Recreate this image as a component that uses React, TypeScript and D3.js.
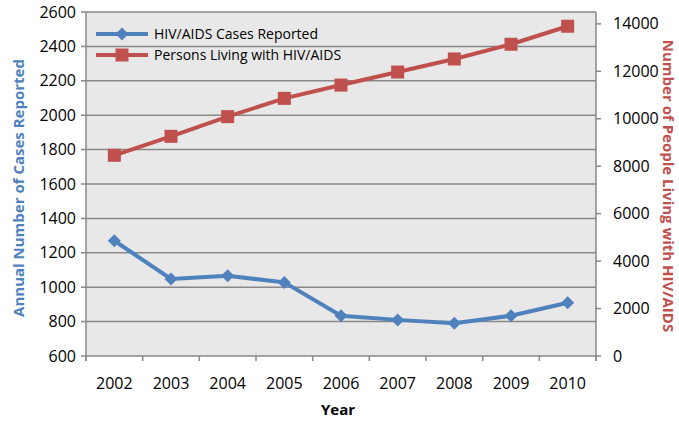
import React from "react";
import * as d3 from "d3";

const years = ["2002", "2003", "2004", "2005", "2006", "2007", "2008", "2009", "2010"];
const casesReported = [1270, 1048, 1066, 1028, 834, 810, 790, 834, 910];
const personsLiving = [8460, 9260, 10090, 10860, 11420, 11970, 12520, 13140, 13900];
const leftTicks = [600, 800, 1000, 1200, 1400, 1600, 1800, 2000, 2200, 2400, 2600];
const rightTicks = [0, 2000, 4000, 6000, 8000, 10000, 12000, 14000];

const blue = "#4F81BD";
const red = "#C0504D";
const font = "'Open Sans', sans-serif";

// square diamond marker, as Excel draws it
const diamond = "M0,-6.5L6.5,0L0,6.5L-6.5,0Z";

const App = () => {
    const width = 679;
    const height = 421;
    const left = 86, right = 596, top = 12, bottom = 356;

    const x = d3.scaleBand().domain(years).range([left, right]);
    const yL = d3.scaleLinear().domain([600, 2600]).range([bottom, top]);
    const yR = d3.scaleLinear().domain([0, 14500]).range([bottom, top]);

    const cx = (d: string) => (x(d) as number) + x.bandwidth() / 2;

    const lineL = d3.line<number>().x((d, i) => cx(years[i])).y(d => yL(d));
    const lineR = d3.line<number>().x((d, i) => cx(years[i])).y(d => yR(d));

    const boundaries = years.map(d => x(d) as number).concat([right]);

    return (
        <svg width={width} height={height} style={{position: "absolute", left: 0, top: 0}}>
            <rect x={left} y={top} width={right - left} height={bottom - top} fill="#e8e8e8"/>
            {leftTicks.map(t => (
                <g key={t}>
                    <line x1={left - 5} x2={right} y1={yL(t)} y2={yL(t)} stroke="#888" strokeWidth={1.5}/>
                    <text x={left - 10} y={yL(t)} dy="0.35em" textAnchor="end" fontFamily={font} fontSize={16}>{t}</text>
                </g>
            ))}
            <line x1={left} x2={left} y1={top} y2={bottom + 5} stroke="#888" strokeWidth={1.5}/>
            <line x1={right} x2={right} y1={top} y2={bottom + 5} stroke="#888" strokeWidth={1.5}/>
            {boundaries.map((b, i) => (
                <line key={i} x1={b} x2={b} y1={bottom} y2={bottom + 5} stroke="#888" strokeWidth={1.5}/>
            ))}
            {rightTicks.map(t => (
                <g key={t}>
                    <line x1={right} x2={right + 5} y1={yR(t)} y2={yR(t)} stroke="#888" strokeWidth={1.5}/>
                    <text x={right + 17} y={yR(t)} dy="0.35em" fontFamily={font} fontSize={16}>{t}</text>
                </g>
            ))}
            {years.map(d => (
                <text key={d} x={cx(d)} y={389} textAnchor="middle" fontFamily={font} fontSize={16}>{d}</text>
            ))}

            <path d={lineR(personsLiving) as string} fill="none" stroke={red} strokeWidth={4}/>
            {personsLiving.map((v, i) => (
                <rect key={i} x={cx(years[i]) - 6.5} y={yR(v) - 6.5} width={13} height={13} fill={red}/>
            ))}
            <path d={lineL(casesReported) as string} fill="none" stroke={blue} strokeWidth={4}/>
            {casesReported.map((v, i) => (
                <path key={i} d={diamond} transform={`translate(${cx(years[i])},${yL(v)})`} fill={blue}/>
            ))}

            <g>
                <line x1={96} x2={148} y1={34} y2={34} stroke={blue} strokeWidth={4}/>
                <path d={diamond} transform="translate(122,34)" fill={blue}/>
                <text x={154} y={34} dy="0.35em" fontFamily={font} fontSize={14}>HIV/AIDS Cases Reported</text>
                <line x1={96} x2={148} y1={55} y2={55} stroke={red} strokeWidth={4}/>
                <rect x={115.5} y={48.5} width={13} height={13} fill={red}/>
                <text x={154} y={55} dy="0.35em" fontFamily={font} fontSize={14}>Persons Living with HIV/AIDS</text>
            </g>

            <text transform={`translate(24,${(top + bottom) / 2 + 4}) rotate(-90)`} textAnchor="middle" fontFamily={font} fontSize={15} fontWeight="bold" fill={blue}>Annual Number of Cases Reported</text>
            <text transform={`translate(663,${(top + bottom) / 2 + 2}) rotate(90)`} textAnchor="middle" fontFamily={font} fontSize={15} fontWeight="bold" fill={red}>Number of People Living with HIV/AIDS</text>
            <text x={338} y={415} textAnchor="middle" fontFamily={font} fontSize={15} fontWeight="bold">Year</text>
        </svg>
    );
};

export default App;
